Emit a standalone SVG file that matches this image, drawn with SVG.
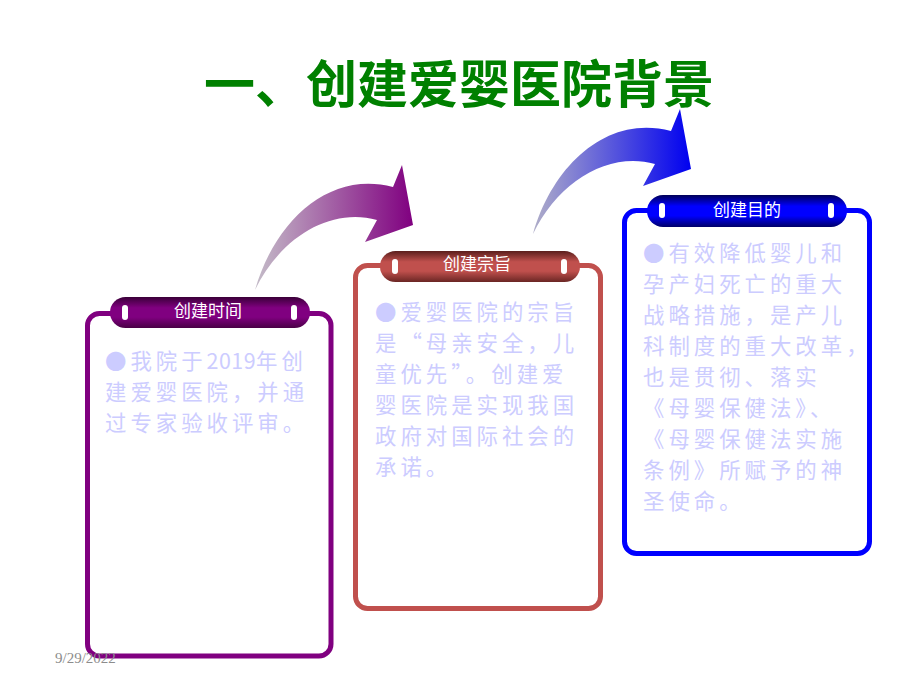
<svg xmlns="http://www.w3.org/2000/svg" width="920" height="690" viewBox="0 0 920 690">
<style>
.frame{fill:#ffffff;stroke-width:5}
.dot{fill:#ffffff}
.lbl{font-family:"Noto Sans CJK SC","Liberation Sans",sans-serif;font-size:17px;fill:#ffffff;text-anchor:middle}
.body{font-family:"Noto Sans CJK SC","Liberation Sans",sans-serif;font-size:21.4px;fill:#ccccff;letter-spacing:4px}
.num{letter-spacing:0.5px}
.title{font-family:"Noto Sans CJK SC","Liberation Sans",sans-serif;font-size:51px;font-weight:bold;fill:#008000;text-anchor:middle}
.date{font-family:"Liberation Serif",serif;font-size:15px;fill:#8c8c8c}
</style>
<defs>
<linearGradient id="gP" x1="0" y1="0" x2="0" y2="1">
<stop offset="0" stop-color="#3a0038"/><stop offset="0.35" stop-color="#800080"/><stop offset="0.65" stop-color="#800080"/><stop offset="1" stop-color="#4a0046"/>
</linearGradient>
<linearGradient id="gR" x1="0" y1="0" x2="0" y2="1">
<stop offset="0" stop-color="#5a1e1c"/><stop offset="0.35" stop-color="#c0504d"/><stop offset="0.65" stop-color="#c0504d"/><stop offset="1" stop-color="#6a2624"/>
</linearGradient>
<linearGradient id="gB" x1="0" y1="0" x2="0" y2="1">
<stop offset="0" stop-color="#000058"/><stop offset="0.35" stop-color="#0000ff"/><stop offset="0.65" stop-color="#0000ff"/><stop offset="1" stop-color="#000068"/>
</linearGradient>
<linearGradient id="aP" x1="0" y1="0" x2="1" y2="0">
<stop offset="0" stop-color="#c4bcc8"/><stop offset="1" stop-color="#800080"/>
</linearGradient>
<linearGradient id="aB" x1="0" y1="0" x2="1" y2="0">
<stop offset="0" stop-color="#b0aec8"/><stop offset="1" stop-color="#0000f0"/>
</linearGradient>
</defs>

<g id="title"><text class="title" x="459" y="103">一、创建爱婴医院背景</text></g>

<g id="connectors">
<path d="M255,290 C275,220 330,170 393,187 L402,165 L413,225 L365,242 L377,220 C330,207 280,238 255,290 Z" fill="url(#aP)"/>
<path d="M255,290 C275,220 330,170 393,187 L402,165 L413,225 L365,242 L377,220 C330,207 280,238 255,290 Z" fill="url(#aB)" transform="translate(278,-56)"/>
</g>

<g id="box1">
<rect class="frame" x="87.5" y="313.5" width="243.5" height="342.5" rx="12" stroke="#800080"/>
<rect x="110" y="297" width="200" height="31" rx="15.5" fill="url(#gP)"/>
<rect class="dot" x="122" y="305" width="6" height="15" rx="3"/>
<rect class="dot" x="291" y="305" width="6" height="15" rx="3"/>
<text class="lbl" x="208" y="317">创建时间</text>
<text class="body"><tspan x="105" y="369">●我院于<tspan class="num">2019</tspan>年创</tspan><tspan x="105" y="400">建爱婴医院，并通</tspan><tspan x="105" y="431">过专家验收评审。</tspan></text>
</g>

<g id="box2">
<rect class="frame" x="355.5" y="265.5" width="245" height="343" rx="12" stroke="#c0504d"/>
<rect x="380" y="251" width="200" height="31" rx="15.5" fill="url(#gR)"/>
<rect class="dot" x="392" y="259" width="6" height="15" rx="3"/>
<rect class="dot" x="561" y="259" width="6" height="15" rx="3"/>
<text class="lbl" x="477" y="270">创建宗旨</text>
<text class="body"><tspan x="375" y="320">●爱婴医院的宗旨</tspan><tspan x="375" y="351">是“母亲安全，儿</tspan><tspan x="375" y="382">童优先”。创建爱</tspan><tspan x="375" y="413">婴医院是实现我国</tspan><tspan x="375" y="444">政府对国际社会的</tspan><tspan x="375" y="475">承诺。</tspan></text>
</g>

<g id="box3">
<rect class="frame" x="624.5" y="210.5" width="245" height="343" rx="12" stroke="#0000ff"/>
<rect x="647" y="195" width="200" height="32" rx="16" fill="url(#gB)"/>
<rect class="dot" x="659" y="203" width="6" height="15" rx="3"/>
<rect class="dot" x="828" y="203" width="6" height="15" rx="3"/>
<text class="lbl" x="747" y="216">创建目的</text>
<text class="body"><tspan x="643" y="261">●有效降低婴儿和</tspan><tspan x="643" y="292">孕产妇死亡的重大</tspan><tspan x="643" y="323">战略措施，是产儿</tspan><tspan x="643" y="354">科制度的重大改革，</tspan><tspan x="643" y="385">也是贯彻、落实</tspan><tspan x="643" y="416">《母婴保健法》、</tspan><tspan x="643" y="447">《母婴保健法实施</tspan><tspan x="643" y="478">条例》所赋予的神</tspan><tspan x="643" y="509">圣使命。</tspan></text>
</g>

<g id="date"><text class="date" x="55" y="663">9/29/2022</text></g>
</svg>
